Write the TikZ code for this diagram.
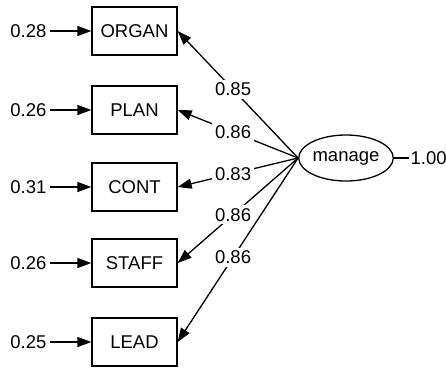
\documentclass[tikz,border=0pt]{standalone}
\usepackage{fontspec}
\setmainfont{Liberation Sans}
\usetikzlibrary{arrows.meta,shapes.geometric}
\begin{document}
\begin{tikzpicture}[x=1pt,y=-1pt,
  font=\fontsize{18.5}{21}\selectfont,
  line width=1.3pt,
  obs/.style={draw,minimum width=85pt,minimum height=48pt,inner sep=0pt},
  lat/.style={draw,ellipse,minimum width=86pt,minimum height=46pt,inner sep=0pt},
  err/.style={inner xsep=2.5pt,inner ysep=0pt,anchor=east},
  arr/.style={-{Triangle[length=14pt,width=10pt]}},
  lbl/.style={fill=white,inner sep=3pt,pos=0.54}]
\useasboundingbox (0,0) rectangle (446,370);
\node[obs] (o1) at (134.5,31) {ORGAN};
\node[obs] (o2) at (134.5,110) {PLAN};
\node[obs] (o3) at (134.5,187) {CONT};
\node[obs] (o4) at (134.5,263) {STAFF};
\node[obs] (o5) at (134.5,342) {LEAD};
\node[err] (e1) at (49.5,31) {0.28};
\node[err] (e2) at (49.5,110) {0.26};
\node[err] (e3) at (49.5,187) {0.31};
\node[err] (e4) at (49.5,263) {0.26};
\node[err] (e5) at (49.5,342) {0.25};
\foreach \i in {1,...,5} \draw[arr] (e\i.east) -- (o\i.west);
\node[lat] (m) at (346,158) {manage};
\node[anchor=west,inner sep=1pt] (v) at (409,158) {1.00};
\draw (m.east) -- (v.west);
\draw[arr] (m.west) -- node[lbl]{0.85} (o1.east);
\draw[arr] (m.west) -- node[lbl]{0.86} (o2.east);
\draw[arr] (m.west) -- node[lbl]{0.83} (o3.east);
\draw[arr] (m.west) -- node[lbl]{0.86} (o4.east);
\draw[arr] (m.west) -- node[lbl]{0.86} (o5.east);
\end{tikzpicture}
\end{document}
